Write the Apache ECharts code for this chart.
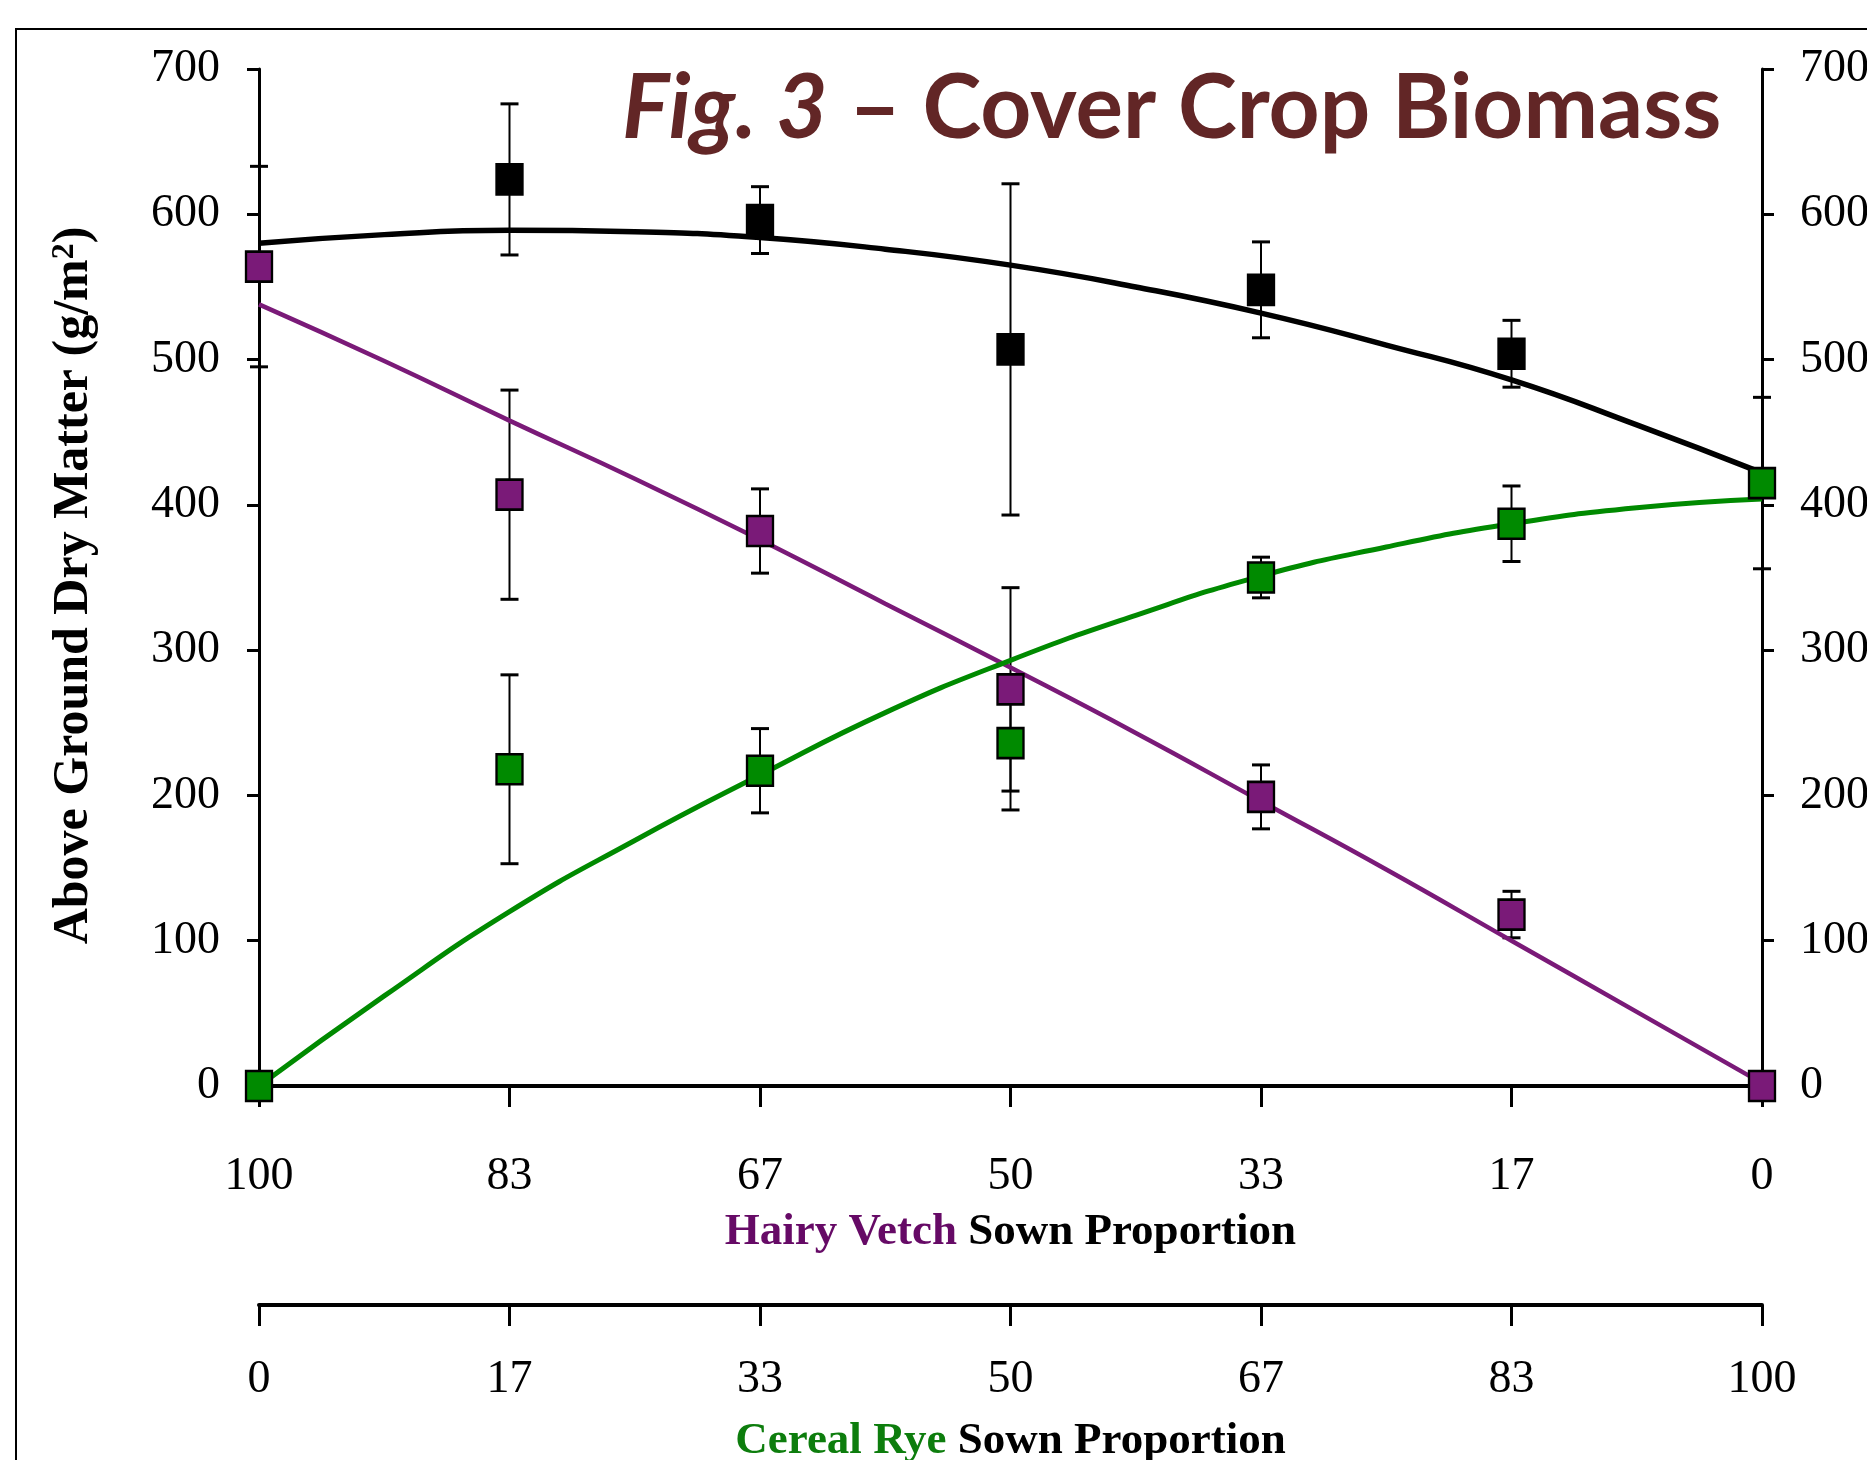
<!DOCTYPE html>
<html>
<head>
<meta charset="utf-8">
<script src="https://cdn.jsdelivr.net/npm/echarts@6/dist/echarts.min.js"></script>
<style>
  html, body { margin: 0; padding: 0; background: #ffffff; }
  #chart { width: 1867px; height: 1460px; }
</style>
</head>
<body>
<div id="chart"></div>
<script>
// ---- Data ----
// Treatments, left to right: Hairy Vetch sown proportion and matching Cereal Rye proportion
var vetchLabels = ['100', '83', '67', '50', '33', '17', '0'];
var ryeLabels   = ['0', '17', '33', '50', '67', '83', '100'];
var yTicks = [0, 100, 200, 300, 400, 500, 600, 700];

// Mean above-ground dry matter (g/m2) and error (+/-)
var totalMean   = [null, 624, 596, 507, 548, 504, null];
var totalErr    = [null, 52, 23, 114, 33, 23, null];
var vetchMean   = [564, 407, 382, 273, 199, 118, 0];
var vetchErr    = [69, 72, 29, 70, 22, 16, 0];
var ryeMean     = [0, 218, 217, 236, 350, 387, 415];
var ryeErr      = [0, 65, 29, 46, 14, 26, 59];

// Fitted trend curves read at half-step positions (0, 0.5, ... 6)
var curvePos    = [0, 0.5, 1, 1.5, 2, 2.5, 3, 3.5, 4, 4.5, 5, 5.5, 6];
var totalCurve  = [580, 586, 589, 588, 584, 576, 565, 550, 532, 510, 486, 455, 422];
var vetchCurve  = [538, 499, 458, 418, 376, 332, 288, 243, 196, 149, 100, 51, 2];
var ryeCurve    = [0, 62, 120, 169, 214, 257, 293, 324, 351, 371, 387, 398, 404];

// ---- Build series data ----
function pts(means) {
  var out = [];
  for (var i = 0; i < means.length; i++) if (means[i] !== null) out.push([i, means[i]]);
  return out;
}
function bars(means, errs) {
  var out = [];
  for (var i = 0; i < means.length; i++) {
    if (means[i] !== null && errs[i] > 0) out.push([i, means[i] - errs[i], means[i] + errs[i]]);
  }
  return out;
}
function curve(vals) {
  return curvePos.map(function (p, i) { return [p, vals[i]]; });
}

var PURPLE = '#7a1a78';
var GREEN = '#008a00';
var SERIF = 'Liberation Serif';

function errRender(params, api) {
  var x = api.value(0);
  var lo = api.coord([x, api.value(1)]);
  var hi = api.coord([x, api.value(2)]);
  var hw = 9;
  var st = { stroke: '#000', lineWidth: 2 };
  var cap = { stroke: '#000', lineWidth: 3 };
  return {
    type: 'group',
    children: [
      { type: 'line', shape: { x1: lo[0], y1: lo[1], x2: hi[0], y2: hi[1] }, style: st },
      { type: 'line', shape: { x1: lo[0] - hw, y1: lo[1], x2: lo[0] + hw, y2: lo[1] }, style: cap },
      { type: 'line', shape: { x1: hi[0] - hw, y1: hi[1], x2: hi[0] + hw, y2: hi[1] }, style: cap }
    ]
  };
}

var labelStyle = { fontFamily: SERIF, fontSize: 46, color: '#000' };

var chart = echarts.init(document.getElementById('chart'), null, { renderer: 'canvas' });

chart.setOption({
  backgroundColor: '#ffffff',
  animation: false,
  title: {
    text: '{i|Fig. 3} {n|– Cover Crop Biomass}',
    left: 617,
    top: 60,
    textStyle: {
      rich: {
        i: { fontFamily: 'Lato', fontWeight: 'bold', fontStyle: 'italic', fontSize: 89, color: '#622626' },
        n: { fontFamily: 'Lato', fontWeight: 'bold', fontSize: 89, color: '#622626' }
      },
      fontFamily: 'Lato', fontWeight: 'bold', fontSize: 89, color: '#622626'
    }
  },
  graphic: [
    { type: 'rect', shape: { x: 16, y: 29, width: 1900, height: 1500 }, style: { fill: 'none', stroke: '#000', lineWidth: 2 }, silent: true, z: 0 }
  ],
  grid: { left: 259, right: 105, top: 69, bottom: 374, containLabel: false, outerBoundsMode: 'none' },
  xAxis: [
    {
      type: 'value', min: 0, max: 6, interval: 1, position: 'bottom',
      axisLine: { show: true, onZero: false, lineStyle: { color: '#000', width: 4 } },
      axisTick: { show: true, length: 21, lineStyle: { color: '#000', width: 3 } },
      axisLabel: Object.assign({ margin: 68, formatter: function (v) { return vetchLabels[Math.round(v)]; } }, labelStyle),
      splitLine: { show: false },
      name: '{v|Hairy Vetch} {k|Sown Proportion}',
      nameLocation: 'middle',
      nameGap: 124,
      nameTextStyle: {
        fontFamily: SERIF, fontWeight: 'bold', fontSize: 45, color: '#000',
        rich: {
          v: { fontFamily: SERIF, fontWeight: 'bold', fontSize: 45, color: '#660a66' },
          k: { fontFamily: SERIF, fontWeight: 'bold', fontSize: 45, color: '#000' }
        }
      }
    },
    {
      type: 'value', min: 0, max: 6, interval: 1, position: 'bottom', offset: 219,
      axisLine: { show: true, onZero: false, lineStyle: { color: '#000', width: 4 } },
      axisTick: { show: true, length: 21, lineStyle: { color: '#000', width: 3 } },
      axisLabel: Object.assign({ margin: 52, formatter: function (v) { return ryeLabels[Math.round(v)]; } }, labelStyle),
      splitLine: { show: false },
      name: '{r|Cereal Rye} {k|Sown Proportion}',
      nameLocation: 'middle',
      nameGap: 114,
      nameTextStyle: {
        fontFamily: SERIF, fontWeight: 'bold', fontSize: 45, color: '#000',
        rich: {
          r: { fontFamily: SERIF, fontWeight: 'bold', fontSize: 45, color: '#0d7d0d' },
          k: { fontFamily: SERIF, fontWeight: 'bold', fontSize: 45, color: '#000' }
        }
      }
    }
  ],
  yAxis: [
    {
      type: 'value', min: yTicks[0], max: yTicks[yTicks.length - 1], interval: 100, position: 'left',
      axisLine: { show: true, onZero: false, lineStyle: { color: '#000', width: 3 } },
      axisTick: { show: true, length: 12, lineStyle: { color: '#000', width: 3 } },
      axisLabel: Object.assign({ margin: 39, padding: [16, 0, 0, 0] }, labelStyle),
      splitLine: { show: false },
      name: '{t|Above Ground Dry Matter (g/m}{s|2}{t|)}',
      nameLocation: 'middle',
      nameRotate: 90,
      nameGap: 160,
      nameTextStyle: {
        fontFamily: SERIF, fontWeight: 'bold', fontSize: 50, color: '#000',
        padding: [0, 16, 0, 0],
        rich: {
          t: { fontFamily: SERIF, fontWeight: 'bold', fontSize: 50, color: '#000' },
          s: { fontFamily: SERIF, fontWeight: 'bold', fontSize: 32, color: '#000', verticalAlign: 'top' }
        }
      }
    },
    {
      type: 'value', min: yTicks[0], max: yTicks[yTicks.length - 1], interval: 100, position: 'right',
      axisLine: { show: true, onZero: false, lineStyle: { color: '#000', width: 3 } },
      axisTick: { show: true, length: 12, lineStyle: { color: '#000', width: 3 } },
      axisLabel: Object.assign({ margin: 38, padding: [16, 0, 0, 0] }, labelStyle),
      splitLine: { show: false }
    }
  ],
  series: [
    { name: 'Total err', type: 'custom', renderItem: errRender, data: bars(totalMean, totalErr), z: 2, xAxisIndex: 0, yAxisIndex: 0 },
    { name: 'Vetch err', type: 'custom', renderItem: errRender, data: bars(vetchMean, vetchErr), z: 2, xAxisIndex: 0, yAxisIndex: 0 },
    { name: 'Rye err', type: 'custom', renderItem: errRender, data: bars(ryeMean, ryeErr), z: 2, xAxisIndex: 0, yAxisIndex: 0 },

    { name: 'Total fit', type: 'line', data: curve(totalCurve), smooth: true, showSymbol: false, lineStyle: { color: '#000', width: 5.5 }, z: 3 },
    { name: 'Vetch fit', type: 'line', data: curve(vetchCurve), smooth: true, showSymbol: false, lineStyle: { color: PURPLE, width: 4.5 }, z: 3 },
    { name: 'Rye fit', type: 'line', data: curve(ryeCurve), smooth: true, showSymbol: false, lineStyle: { color: GREEN, width: 5 }, z: 3 },

    { name: 'Total', type: 'scatter', data: pts(totalMean), symbol: 'rect', symbolSize: [26, 30], itemStyle: { color: '#000', borderColor: '#000', borderWidth: 2.5, opacity: 1 }, z: 5 },
    { name: 'Vetch', type: 'scatter', data: pts(vetchMean), symbol: 'rect', symbolSize: [26, 30], itemStyle: { color: PURPLE, borderColor: '#000', borderWidth: 2.5, opacity: 1 }, z: 5 },
    { name: 'Rye', type: 'scatter', data: pts(ryeMean), symbol: 'rect', symbolSize: [26, 30], itemStyle: { color: GREEN, borderColor: '#000', borderWidth: 2.5, opacity: 1 }, z: 5 }
  ]
});
</script>
</body>
</html>
